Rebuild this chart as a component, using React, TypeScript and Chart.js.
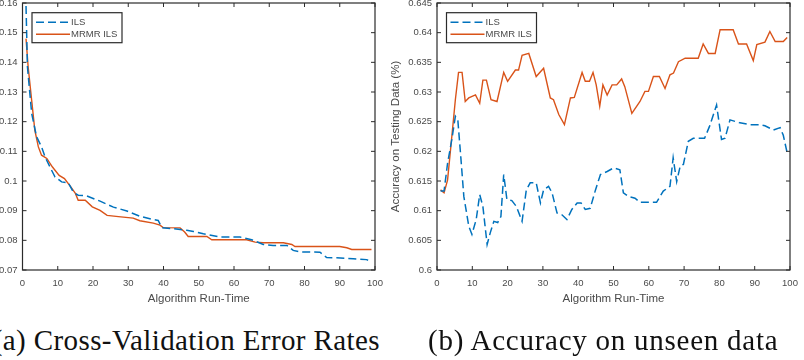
import { useEffect, useRef } from "react";
import { Chart, registerables } from "chart.js";

Chart.register(...registerables);

const ILS_COLOR = "#0072BD";
const MRMR_COLOR = "#D95319";
const AXIS_COLOR = "#2b2b2b";
const TEXT_COLOR = "#4a4a4a";
const SANS = "'Liberation Sans', Arial, Helvetica, sans-serif";
const SERIF = "'Liberation Serif', 'Times New Roman', serif";

const seriesNames = ["ILS", "MRMR ILS"];
const runTimeTicks = [0, 10, 20, 30, 40, 50, 60, 70, 80, 90, 100];

// (a) cross-validation error rate over the run
const cvIlsRun = [1, 1.4, 2.6, 4, 5.4, 6.4, 7.8, 9.2, 11.1, 13, 14.4, 15.8, 18.2, 22, 25.8, 29.6, 33.3, 37.1, 38.5, 39.5, 42.8, 46.6, 48.5, 51.3, 56, 61.7, 65, 68.3, 71.1, 75, 76.8, 78.7, 84.4, 86.3, 89.1, 93.8, 97.6, 98.6];
const cvIlsErr = [0.159, 0.1385, 0.1228, 0.1149, 0.1115, 0.1081, 0.1047, 0.1014, 0.0997, 0.0994, 0.0963, 0.0952, 0.095, 0.0932, 0.0912, 0.0899, 0.0881, 0.087, 0.0867, 0.0843, 0.0839, 0.0834, 0.083, 0.0822, 0.0811, 0.0811, 0.0802, 0.0786, 0.0783, 0.0783, 0.0766, 0.0761, 0.076, 0.0742, 0.0741, 0.0738, 0.0735, 0.073];
const cvMrmrRun = [1, 1.6, 2.6, 3.5, 4.5, 5.4, 6.9, 8.5, 10.4, 11.9, 13.7, 15, 15.8, 17.8, 19.8, 22, 24, 27.2, 31.4, 33.3, 37.1, 39, 39.9, 44.7, 46, 47, 52.3, 53.7, 63.6, 66, 68.3, 74, 76.4, 77.3, 90, 92, 93.4, 99];
const cvMrmrErr = [0.148, 0.1385, 0.1272, 0.1171, 0.1115, 0.1087, 0.1076, 0.1047, 0.1019, 0.1008, 0.098, 0.0958, 0.0935, 0.0935, 0.0913, 0.0901, 0.0884, 0.088, 0.0875, 0.0866, 0.0858, 0.0851, 0.0843, 0.0842, 0.0828, 0.0813, 0.0813, 0.0802, 0.0802, 0.0794, 0.0792, 0.0792, 0.0786, 0.0779, 0.0779, 0.0775, 0.0769, 0.0769];
const cvErrTicks = [0.07, 0.08, 0.09, 0.1, 0.11, 0.12, 0.13, 0.14, 0.15, 0.16];

// (b) accuracy on the held-out test data
const testIlsRun = [1, 2, 3, 4.2, 5.2, 5.9, 6.8, 7.6, 9, 9.9, 11.1, 12.1, 13, 14.2, 15.1, 16.1, 17.2, 18.1, 18.9, 19.8, 21.2, 22.5, 24.1, 25.3, 26.4, 28.1, 29.3, 30.2, 31.6, 32.6, 34, 35.4, 36.8, 38.2, 39.7, 40.8, 42, 43.4, 44.9, 46.3, 48.2, 50, 51.8, 52.8, 54.2, 56.1, 57.5, 62.2, 64.1, 66, 66.9, 67.9, 68.9, 69.8, 71.2, 72.6, 75.8, 77.2, 79.2, 80.6, 81.6, 83, 85.8, 88.6, 91.5, 92.9, 95.3, 97.2, 98.1, 99.1];
const testIlsAcc = [0.6133, 0.6133, 0.618, 0.622, 0.6259, 0.6253, 0.6186, 0.6124, 0.6074, 0.606, 0.6085, 0.6127, 0.6107, 0.6043, 0.6063, 0.6082, 0.608, 0.609, 0.6161, 0.6119, 0.6117, 0.6107, 0.6082, 0.6135, 0.6147, 0.6147, 0.6113, 0.6135, 0.6141, 0.613, 0.6096, 0.6093, 0.6085, 0.6102, 0.6113, 0.6113, 0.6102, 0.6104, 0.6135, 0.6161, 0.6166, 0.6172, 0.6169, 0.613, 0.6124, 0.6121, 0.6114, 0.6114, 0.6133, 0.6141, 0.6189, 0.6149, 0.6175, 0.6178, 0.6217, 0.6222, 0.6222, 0.6242, 0.6278, 0.622, 0.6222, 0.6253, 0.6248, 0.6245, 0.6245, 0.6243, 0.6236, 0.624, 0.6227, 0.62];
const testMrmrRun = [1, 2, 3, 4.2, 5.2, 6.1, 7.1, 8, 9, 10.9, 12.1, 13, 14, 15.3, 17, 18.9, 20, 22.2, 23.1, 24.1, 26, 28.1, 30.2, 32.1, 33, 34.5, 36.1, 37.8, 38.9, 41.1, 42, 43.2, 44.2, 45.1, 46.1, 47, 48.2, 49.6, 50.9, 52.3, 53.2, 55.2, 57.5, 58.9, 59.9, 61.3, 63, 64.6, 66, 67, 68.4, 70.3, 74, 75.4, 76.9, 78.8, 80.2, 83.9, 85.4, 87.7, 89.6, 90.6, 92.9, 94.3, 95.8, 98.1, 99.2];
const testMrmrAcc = [0.6135, 0.613, 0.6152, 0.6225, 0.6287, 0.6333, 0.6333, 0.6284, 0.629, 0.6295, 0.6281, 0.632, 0.632, 0.6287, 0.6284, 0.6333, 0.6318, 0.6337, 0.6337, 0.6362, 0.6365, 0.6326, 0.634, 0.629, 0.6287, 0.6262, 0.6245, 0.629, 0.6291, 0.6333, 0.6318, 0.6318, 0.6333, 0.6312, 0.6276, 0.6312, 0.6295, 0.6312, 0.6312, 0.6322, 0.6309, 0.6264, 0.6284, 0.6301, 0.6301, 0.6326, 0.6326, 0.6306, 0.6329, 0.6332, 0.6351, 0.6357, 0.6357, 0.6381, 0.6365, 0.6365, 0.6405, 0.6405, 0.6381, 0.6381, 0.6353, 0.638, 0.6384, 0.6402, 0.6385, 0.6385, 0.6392];
const testAccTicks = [0.6, 0.605, 0.61, 0.615, 0.62, 0.625, 0.63, 0.635, 0.64, 0.645];

const TICK_LEN = 4;

const toPoints = (xs: number[], ys: number[]) => xs.map((x, i) => ({ x, y: ys[i] }));
const fmt = (v: number) => String(Number(v.toFixed(4)));

// Boxed axes with inward tick marks on all four sides
const framePlugin = {
  id: "frame",
  afterDatasetsDraw(chart: any) {
    const { ctx, chartArea } = chart;
    const { left, right, top, bottom } = chartArea;
    const xs = chart.scales.x;
    const ys = chart.scales.y;
    ctx.save();
    ctx.strokeStyle = AXIS_COLOR;
    ctx.lineWidth = 1;
    ctx.beginPath();
    for (const t of xs.ticks) {
      const px = xs.getPixelForValue(t.value);
      ctx.moveTo(px, bottom);
      ctx.lineTo(px, bottom - TICK_LEN);
      ctx.moveTo(px, top);
      ctx.lineTo(px, top + TICK_LEN);
    }
    for (const t of ys.ticks) {
      const py = ys.getPixelForValue(t.value);
      ctx.moveTo(left, py);
      ctx.lineTo(left + TICK_LEN, py);
      ctx.moveTo(right, py);
      ctx.lineTo(right - TICK_LEN, py);
    }
    ctx.stroke();
    ctx.lineWidth = 1.2;
    ctx.strokeRect(left, top, right - left, bottom - top);
    ctx.restore();
  },
};

// Boxed legend in the upper-left corner of the plot area
const legendPlugin = {
  id: "boxLegend",
  afterDraw(chart: any) {
    const { ctx, chartArea } = chart;
    const bx = chartArea.left + 9.5;
    const by = chartArea.top + 9.7;
    const bw = 90;
    const bh = 30;
    ctx.save();
    ctx.fillStyle = "#ffffff";
    ctx.fillRect(bx, by, bw, bh);
    ctx.strokeStyle = AXIS_COLOR;
    ctx.lineWidth = 1.2;
    ctx.strokeRect(bx, by, bw, bh);
    ctx.font = `9.5px ${SANS}`;
    ctx.textBaseline = "middle";
    ctx.textAlign = "left";
    chart.data.datasets.forEach((ds: any, i: number) => {
      const ly = by + 9.5 + i * 12;
      ctx.beginPath();
      ctx.strokeStyle = ds.borderColor;
      ctx.lineWidth = ds.borderWidth;
      ctx.setLineDash(ds.borderDash || []);
      ctx.moveTo(bx + 4, ly);
      ctx.lineTo(bx + 38, ly);
      ctx.stroke();
      ctx.setLineDash([]);
      ctx.fillStyle = TEXT_COLOR;
      ctx.fillText(ds.label, bx + 39, ly + 0.5);
    });
    ctx.restore();
  },
};

function makeConfig(opts: {
  ils: { x: number; y: number }[];
  mrmr: { x: number; y: number }[];
  yTicks: number[];
  yAxisWidth: number;
  padRight: number;
  yLabelPad: number;
  yTitle?: string;
}): any {
  const yMin = opts.yTicks[0];
  const yMax = opts.yTicks[opts.yTicks.length - 1];
  return {
    type: "line",
    data: {
      datasets: [
        {
          label: seriesNames[0],
          data: opts.ils,
          borderColor: ILS_COLOR,
          borderWidth: 1.5,
          borderDash: [8, 4],
          pointRadius: 0,
          fill: false,
          tension: 0,
        },
        {
          label: seriesNames[1],
          data: opts.mrmr,
          borderColor: MRMR_COLOR,
          borderWidth: 1.4,
          pointRadius: 0,
          fill: false,
          tension: 0,
        },
      ],
    },
    options: {
      responsive: false,
      animation: false,
      events: [],
      layout: { padding: { left: 0, top: 3, right: opts.padRight, bottom: 0 } },
      plugins: { legend: { display: false }, tooltip: { enabled: false } },
      scales: {
        x: {
          type: "linear",
          min: runTimeTicks[0],
          max: runTimeTicks[runTimeTicks.length - 1],
          afterBuildTicks: (s: any) => {
            s.ticks = runTimeTicks.map((v) => ({ value: v }));
          },
          afterFit: (s: any) => {
            s.height = 40;
            s.paddingLeft = 0;
            s.paddingRight = 0;
          },
          grid: { display: false, drawTicks: false },
          border: { display: false },
          ticks: {
            color: TEXT_COLOR,
            font: { family: SANS, size: 9.5 },
            padding: 8,
            maxRotation: 0,
            autoSkip: false,
            callback: (v: number) => fmt(v),
          },
          title: {
            display: true,
            text: "Algorithm Run-Time",
            color: TEXT_COLOR,
            font: { family: SANS, size: 11.5 },
            padding: { top: 0, bottom: 4 },
          },
        },
        y: {
          type: "linear",
          min: yMin,
          max: yMax,
          afterBuildTicks: (s: any) => {
            s.ticks = opts.yTicks.map((v) => ({ value: v }));
          },
          afterFit: (s: any) => {
            s.width = opts.yAxisWidth;
            s.paddingTop = 0;
            s.paddingBottom = 0;
          },
          grid: { display: false, drawTicks: false },
          border: { display: false },
          ticks: {
            color: TEXT_COLOR,
            font: { family: SANS, size: 9.5 },
            padding: opts.yLabelPad,
            autoSkip: false,
            callback: (v: number) => fmt(v),
          },
          title: {
            display: !!opts.yTitle,
            text: opts.yTitle || "",
            color: TEXT_COLOR,
            font: { family: SANS, size: 11.5 },
            padding: { top: 9, bottom: 0 },
          },
        },
      },
    },
    plugins: [framePlugin, legendPlugin],
  };
}

export default function App() {
  const leftRef = useRef<HTMLCanvasElement>(null);
  const rightRef = useRef<HTMLCanvasElement>(null);

  useEffect(() => {
    if (!leftRef.current || !rightRef.current) return;
    const errChart = new Chart(
      leftRef.current,
      makeConfig({
        ils: toPoints(cvIlsRun, cvIlsErr),
        mrmr: toPoints(cvMrmrRun, cvMrmrErr),
        yTicks: cvErrTicks,
        yAxisWidth: 22.5,
        padRight: 25,
        yLabelPad: 5,
      })
    );
    const accChart = new Chart(
      rightRef.current,
      makeConfig({
        ils: toPoints(testIlsRun, testIlsAcc),
        mrmr: toPoints(testMrmrRun, testMrmrAcc),
        yTicks: testAccTicks,
        yAxisWidth: 57,
        padRight: 14,
        yLabelPad: 5,
        yTitle: "Accuracy on Testing Data (%)",
      })
    );
    return () => {
      errChart.destroy();
      accChart.destroy();
    };
  }, []);

  const captionStyle: any = {
    position: "absolute",
    top: 326,
    fontFamily: SERIF,
    fontSize: 29,
    lineHeight: "29px",
    letterSpacing: "0.75px",
    color: "#111",
    whiteSpace: "nowrap",
  };

  return (
    <div
      style={{
        position: "fixed",
        left: 0,
        top: 0,
        width: 804,
        height: 360,
        background: "#ffffff",
        overflow: "hidden",
      }}
    >
      <canvas
        ref={leftRef}
        width={400}
        height={310}
        style={{ position: "absolute", left: 0, top: 0, width: 400, height: 310 }}
      />
      <canvas
        ref={rightRef}
        width={424}
        height={310}
        style={{ position: "absolute", left: 380, top: 0, width: 424, height: 310 }}
      />
      <div
        style={{
          ...captionStyle,
          right: 804 - 380,
          textAlign: "right",
          letterSpacing: "0.4px",
        }}
      >
        (a) Cross-Validation Error Rates
      </div>
      <div style={{ ...captionStyle, left: 428 }}>(b) Accuracy on unseen data</div>
    </div>
  );
}
